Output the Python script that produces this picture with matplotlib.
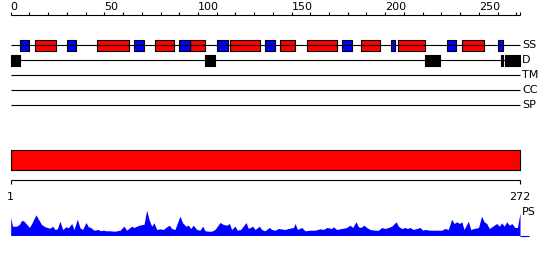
import matplotlib
matplotlib.use("Agg")
import matplotlib.pyplot as plt
import numpy as np

seq_len = 272

# secondary structure: (start, end) in residues
helix = [(13, 24), (46, 63), (77, 87), (96, 104), (117, 133), (144, 152),
         (158, 174), (187, 197), (207, 221), (241, 253)]
strand = [(5, 10), (30, 35), (66, 71), (90, 96), (110, 116), (136, 141),
          (177, 182), (203, 205), (233, 238), (260, 263)]
# disordered regions
disorder = [(0, 5), (104, 109), (221, 229), (262, 263), (264, 272)]

row_names = ["SS", "D", "TM", "CC", "SP"]

# PS profile (residue, height)
ps_pos = [0, 1.0, 3.2, 4.6, 5.9, 7.1, 8.5, 10.0, 11.2, 13.5, 14.8, 16.5, 18.3, 21.0,
          22.4, 23.7, 24.9, 26.3, 27.8, 29.5, 30.8, 32.6, 33.8, 35.6, 37.0, 38.4,
          40.2, 41.5, 42.7, 44.5, 46.8, 48.0, 49.5, 50.9, 53.0, 55.7, 58.4, 60.5,
          61.9, 64.6, 65.8, 67.3, 68.7, 71.2, 72.6, 74.0, 75.3, 76.5, 78.0, 79.7,
          81.5, 83.3, 84.7, 86.0, 87.7, 90.4, 91.8, 93.6, 94.9, 96.1, 97.5, 99.3,
          101.1, 102.5, 103.8, 105.5, 107.3, 109.1, 111.8, 113.6, 115.4, 116.8,
          118.0, 119.8, 121.0, 122.8, 125.7, 126.9, 129.2, 130.5, 132.8, 134.0,
          135.8, 138.1, 139.4, 141.2, 143.0, 146.5, 148.3, 151.0, 151.9, 153.1,
          155.4, 157.2, 159.9, 162.5, 165.2, 167.0, 168.8, 171.4, 172.3, 174.1,
          176.8, 179.4, 181.2, 182.6, 184.4, 185.7, 186.9, 188.7, 190.1, 191.9,
          194.6, 196.4, 198.1, 199.9, 201.7, 203.5, 205.8, 207.0, 208.8, 210.6,
          211.8, 213.3, 215.0, 216.8, 218.6, 220.0, 221.3, 224.0, 226.6, 228.4,
          230.2, 232.0, 233.7, 235.5, 236.8, 238.2, 239.6, 240.9, 242.1, 244.4,
          245.7, 247.4, 249.8, 251.5, 252.8, 254.2, 255.6, 257.4, 259.5, 261.0,
          262.2, 263.5, 264.9, 266.3, 267.6, 269.3, 270.6, 272.0]
ps_val = [18, 9.3, 9.3, 11, 15.3, 14.3, 11.3, 8, 12, 20.7, 16.3, 11, 8.7, 7.3,
          9.3, 6, 6.7, 14.3, 6, 8.7, 7.7, 12, 6, 16.3, 7.7, 6,
          13, 8.7, 8, 5.3, 6, 4.7, 5.3, 4.7, 4.7, 4.3, 5.3, 9.3,
          5.3, 9.3, 8, 9.3, 10.3, 11.3, 25.3, 15.3, 9.3, 12.7, 6, 6.7,
          6, 8.7, 10.3, 7, 6, 19.3, 12.7, 9.3, 10.3, 7, 10.3, 6,
          5.3, 9.3, 4.7, 4.3, 4.3, 6, 13, 11, 10.3, 12,
          6, 9.3, 5.3, 6, 13, 7, 9.3, 6, 9.3, 6,
          4.7, 8, 6, 5.3, 7, 6, 7, 8, 12, 6,
          8, 4.7, 5.3, 5.3, 6.7, 6, 8, 7, 8.7, 6,
          7, 8, 10.3, 8, 13.7, 8.7, 8, 10.3, 8, 6,
          5.3, 5.3, 8, 7, 8, 9.3, 13.7, 9.3, 7, 8,
          7, 8, 6, 7, 8, 5.3, 6, 5.3, 5.3, 5.3,
          5.3, 7, 6, 16.3, 12, 13.7, 12, 13.7, 6, 14.3,
          6, 7, 8, 19.3, 13.7, 12, 7, 9.3, 12, 9.3,
          12.7, 9.3, 13.7, 10.3, 12, 8, 8, 22.7]

fig = plt.figure(figsize=(5.5, 2.6), dpi=100)
ax = fig.add_axes([0, 0, 1, 1])
ax.set_xlim(-5.71, 288.0)
ax.set_ylim(260, 0)
ax.axis("off")

fs = 8
lw = 0.8

# top ruler
ax.hlines(15, 0, seq_len, color="black", lw=lw)
ticks = list(range(0, seq_len, 10)) + [seq_len]
ax.vlines(ticks, 12, 15, color="black", lw=lw)
for t in range(0, 251, 50):
    ax.text(t, 10.5, str(t), fontsize=fs, ha="left", va="baseline")

# feature rows
row_y = [45, 60.3, 75.3, 90, 105.3]
for name, y in zip(row_names, row_y):
    ax.hlines(y, 0, seq_len, color="black", lw=lw)
    ax.text(seq_len + 1, y, name, fontsize=fs, ha="left", va="center")

ax.broken_barh([(s, e - s) for s, e in helix], (40, 10.7),
               facecolor="#ff0000", edgecolor="black", lw=lw)
ax.broken_barh([(s, e - s) for s, e in strand], (40, 10.7),
               facecolor="#0000ff", edgecolor="black", lw=lw)
ax.broken_barh([(s, e - s) for s, e in disorder], (55, 10.7),
               facecolor="black", edgecolor="black", lw=lw)

# domain bar
ax.broken_barh([(0, seq_len)], (150, 20.3), facecolor="#ff0000",
               edgecolor="black", lw=lw)

# bottom ruler
ax.hlines(180.3, 0, seq_len, color="black", lw=lw)
ax.vlines([0, seq_len], 180.3, 184.3, color="black", lw=lw)
ax.text(0, 200, "1", fontsize=fs, ha="center", va="baseline")
ax.text(seq_len, 200, str(seq_len), fontsize=fs, ha="center", va="baseline")

# PS profile
base = 235.5
ax.fill_between(ps_pos, base, base - np.array(ps_val), color="#0000ff", lw=0)
ax.hlines(base, seq_len, seq_len + 5, color="#0000ff", lw=lw)
ax.text(seq_len + 1, 215, "PS", fontsize=fs, ha="left", va="baseline")

fig.savefig("out.png", dpi=100)
